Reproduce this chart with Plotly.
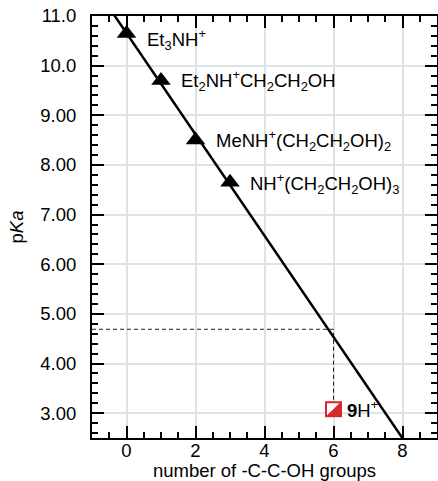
import plotly.graph_objects as go

# ---- data ----
amine_groups = [0, 1, 2, 3]
amine_pka = [10.65, 9.70, 8.50, 7.65]
amine_labels = [
    "Et<sub>3</sub>NH<sup>+</sup>",
    "Et<sub>2</sub>NH<sup>+</sup>CH<sub>2</sub>CH<sub>2</sub>OH",
    "MeNH<sup>+</sup>(CH<sub>2</sub>CH<sub>2</sub>OH)<sub>2</sub>",
    "NH<sup>+</sup>(CH<sub>2</sub>CH<sub>2</sub>OH)<sub>3</sub>",
]
fit_x = [-0.5, 8.5]
fit_y = [11.165, 1.985]
guide_level = 4.69
guide_x = [-1.0, 6.0, 6.0]
guide_y = [guide_level, guide_level, 3.08]
sq_x = 6
sq_y = 3.08
sq_label = "<b>9</b>H<sup>+</sup>"

y_tickvals = [3, 4, 5, 6, 7, 8, 9, 10, 11]
y_ticktext = ["3.00", "4.00", "5.00", "6.00", "7.00", "8.00", "9.00", "10.0", "11.0"]
x_tickvals = [0, 2, 4, 6, 8]
x_ticktext = ["0", "2", "4", "6", "8"]

FONT = "Liberation Sans, Arial, Helvetica, sans-serif"

fig = go.Figure()

# dashed guide
fig.add_trace(go.Scatter(x=guide_x, y=guide_y, mode="lines",
                         line=dict(color="#222222", width=1, dash="4px,3px"),
                         hoverinfo="skip", showlegend=False))
# fit line
fig.add_trace(go.Scatter(x=fit_x, y=fit_y, mode="lines",
                         line=dict(color="black", width=2.5),
                         showlegend=False))
# triangles
fig.add_trace(go.Scatter(x=amine_groups, y=amine_pka, mode="markers",
                         marker=dict(symbol="triangle-up", size=17, color="black"),
                         showlegend=False))

label_yshift = [-6, 0, 0, -1]
for xv, yv, lab, ys in zip(amine_groups, amine_pka, amine_labels, label_yshift):
    fig.add_annotation(x=xv, y=yv, text=lab, showarrow=False, xanchor="left",
                       xshift=18, yshift=ys, font=dict(family=FONT, size=18.5, color="black"))

fig.add_annotation(x=sq_x, y=sq_y, text=sq_label, showarrow=False, xanchor="left",
                   xshift=11, yshift=0, font=dict(family=FONT, size=18.5, color="black"))

# red/white square marker
fig.add_shape(type="rect", xref="x", yref="y", xsizemode="pixel", ysizemode="pixel",
              xanchor=sq_x, yanchor=sq_y, x0=-8.5, x1=8.5, y0=-8, y1=8,
              fillcolor="#d8282c", line=dict(width=0), layer="above")
fig.add_shape(type="path", xref="x", yref="y", xsizemode="pixel", ysizemode="pixel",
              xanchor=sq_x, yanchor=sq_y, path="M-6.5,6 L6,6 L-6.5,-6 Z",
              fillcolor="white", line=dict(width=0), layer="above")

axis_common = dict(
    showline=True, linecolor="black", linewidth=2, mirror="allticks",
    ticks="inside", tickcolor="black", tickwidth=2, ticklen=12,
    showgrid=True, gridcolor="#dde2e2", gridwidth=1.5, zeroline=False,
    tickfont=dict(family=FONT, size=18.5, color="black"),
    automargin=False,
)

fig.update_xaxes(range=[-1, 9], tickvals=x_tickvals, ticktext=x_ticktext,
                 minor=dict(ticks="inside", dtick=0.5, tick0=0, ticklen=6, tickwidth=1.5,
                            tickcolor="black", showgrid=False),
                 title=dict(text="number of -C-C-OH groups", standoff=12,
                            font=dict(family=FONT, size=18.5, color="black")),
                 ticklabelstandoff=-5,
                 **axis_common)
fig.update_yaxes(range=[2.5, 11.0], tickvals=y_tickvals, ticktext=y_ticktext,
                 minor=dict(ticks="inside", dtick=0.2, tick0=0, ticklen=6, tickwidth=1.5,
                            tickcolor="black", showgrid=False),
                 title=dict(text="p<i>Ka</i>", standoff=12,
                            font=dict(family=FONT, size=18.5, color="black")),
                 ticklabelstandoff=10,
                 **axis_common)

fig.update_layout(width=438, height=481,
                  margin=dict(l=92, r=1, t=16, b=43),
                  plot_bgcolor="white", paper_bgcolor="white",
                  showlegend=False)

fig.write_html("out.html", config={"displayModeBar": False},
               post_script="document.body.style.margin='0';document.body.style.overflow='hidden';")
